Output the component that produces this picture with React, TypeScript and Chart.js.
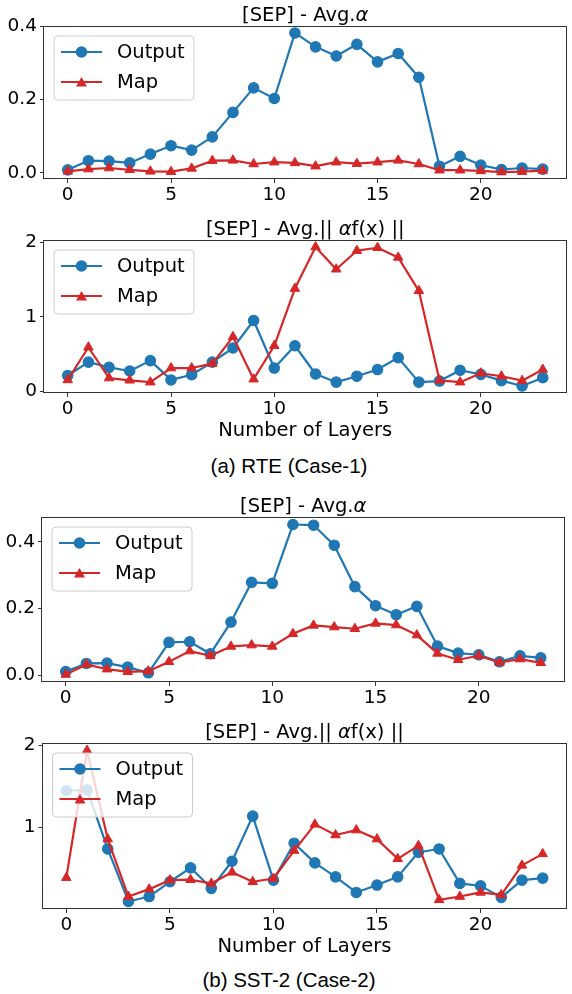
import React, { useEffect, useRef } from "react";
import { Chart, registerables } from "chart.js";

Chart.register(...registerables);

const LAYERS = [0, 1, 2, 3, 4, 5, 6, 7, 8, 9, 10, 11, 12, 13, 14, 15, 16, 17, 18, 19, 20, 21, 22, 23];
const X_TICKS = [0, 5, 10, 15, 20];
const SERIES_NAMES = ["Output", "Map"];
const X_LABEL = "Number of Layers";
const CAPTION_A = "(a) RTE (Case-1)";
const CAPTION_B = "(b) SST-2 (Case-2)";

const TITLE_ALPHA = [
  { text: "[SEP] - Avg.", italic: false },
  { text: "α", italic: true },
];
const TITLE_NORM = [
  { text: "[SEP] - Avg.|| ", italic: false },
  { text: "α", italic: true },
  { text: "f(x) ||", italic: false },
];

const RTE_ALPHA_OUTPUT = [0.008, 0.033, 0.032, 0.027, 0.051, 0.074, 0.062, 0.098, 0.165, 0.232, 0.203, 0.382, 0.344, 0.319, 0.351, 0.303, 0.326, 0.261, 0.018, 0.045, 0.021, 0.009, 0.013, 0.010];
const RTE_ALPHA_MAP = [0.004, 0.010, 0.013, 0.008, 0.004, 0.003, 0.012, 0.033, 0.034, 0.024, 0.029, 0.027, 0.018, 0.029, 0.025, 0.029, 0.034, 0.024, 0.007, 0.007, 0.005, 0.002, 0.003, 0.006];

const RTE_NORM_OUTPUT = [0.21, 0.39, 0.32, 0.27, 0.41, 0.15, 0.22, 0.39, 0.58, 0.95, 0.31, 0.61, 0.23, 0.12, 0.20, 0.29, 0.45, 0.12, 0.135, 0.28, 0.225, 0.14, 0.068, 0.18];
const RTE_NORM_MAP = [0.15, 0.59, 0.175, 0.145, 0.12, 0.31, 0.31, 0.37, 0.73, 0.16, 0.61, 1.38, 1.94, 1.64, 1.89, 1.93, 1.80, 1.35, 0.145, 0.12, 0.24, 0.20, 0.14, 0.29];

const SST_ALPHA_OUTPUT = [0.012, 0.036, 0.037, 0.025, 0.008, 0.099, 0.101, 0.065, 0.160, 0.279, 0.276, 0.452, 0.450, 0.390, 0.266, 0.209, 0.182, 0.207, 0.088, 0.067, 0.062, 0.041, 0.059, 0.053];
const SST_ALPHA_MAP = [0.003, 0.033, 0.019, 0.011, 0.013, 0.041, 0.073, 0.059, 0.087, 0.091, 0.087, 0.125, 0.150, 0.145, 0.140, 0.156, 0.151, 0.121, 0.066, 0.047, 0.059, 0.039, 0.049, 0.038];

const SST_NORM_OUTPUT = [1.45, 1.46, 0.74, 0.10, 0.16, 0.34, 0.51, 0.26, 0.59, 1.14, 0.36, 0.81, 0.57, 0.40, 0.21, 0.30, 0.40, 0.70, 0.74, 0.32, 0.29, 0.15, 0.36, 0.385];
const SST_NORM_MAP = [0.39, 1.94, 0.86, 0.16, 0.25, 0.36, 0.365, 0.32, 0.455, 0.34, 0.38, 0.72, 1.04, 0.91, 0.97, 0.86, 0.62, 0.78, 0.12, 0.16, 0.21, 0.18, 0.54, 0.68];

const Y_TICKS_ALPHA = [0, 0.2, 0.4];
const Y_TICKS_NORM_A = [0, 1, 2];
const Y_TICKS_NORM_B = [1, 2];

const FONT = '"DejaVu Sans", sans-serif';
const BLUE = "#1f77b4";
const RED = "#d62728";
const SPINE = "#333333";

type Seg = { text: string; italic: boolean };
type PanelProps = {
  top: number;
  width: number;
  height: number;
  chartTop: number;
  chartBottom: number;
  chartLeft: number;
  yMin: number;
  yMax: number;
  yTicks: number[];
  decimals: number;
  title: Seg[];
  xLabel?: string;
  output: number[];
  map: number[];
};

const framePlugin = {
  id: "frameLegendTitle",
  afterDatasetsDraw(chart: any) {
    const ctx = chart.ctx;
    const ca = chart.chartArea;
    const opts = chart.options.plugins.frameLegendTitle;
    ctx.save();
    // spines
    ctx.strokeStyle = SPINE;
    ctx.lineWidth = 1;
    ctx.strokeRect(Math.round(ca.left) - 0.5, Math.round(ca.top) + 0.5, Math.round(ca.right) - Math.round(ca.left), Math.round(ca.bottom) - Math.round(ca.top) - 1);

    // legend
    const bx = ca.left + 10;
    const by = ca.top + 10;
    const bw = 140;
    const bh = 64;
    const r = 4;
    ctx.beginPath();
    ctx.moveTo(bx + r, by);
    ctx.lineTo(bx + bw - r, by);
    ctx.arcTo(bx + bw, by, bx + bw, by + r, r);
    ctx.lineTo(bx + bw, by + bh - r);
    ctx.arcTo(bx + bw, by + bh, bx + bw - r, by + bh, r);
    ctx.lineTo(bx + r, by + bh);
    ctx.arcTo(bx, by + bh, bx, by + bh - r, r);
    ctx.lineTo(bx, by + r);
    ctx.arcTo(bx, by, bx + r, by, r);
    ctx.closePath();
    ctx.fillStyle = "rgba(255,255,255,0.8)";
    ctx.fill();
    ctx.strokeStyle = "#cccccc";
    ctx.lineWidth = 1;
    ctx.stroke();

    chart.data.datasets.forEach((ds: any, i: number) => {
      const cy = by + 16 + i * 30;
      ctx.strokeStyle = ds.borderColor;
      ctx.lineWidth = 2.2;
      ctx.beginPath();
      ctx.moveTo(bx + 7, cy);
      ctx.lineTo(bx + 48, cy);
      ctx.stroke();
      const cx = bx + 27.5;
      ctx.fillStyle = ds.borderColor;
      ctx.beginPath();
      if (ds.pointStyle === "triangle") {
        ctx.moveTo(cx, cy - 5);
        ctx.lineTo(cx - 5.5, cy + 4.5);
        ctx.lineTo(cx + 5.5, cy + 4.5);
        ctx.closePath();
      } else {
        ctx.arc(cx, cy, 5.8, 0, Math.PI * 2);
      }
      ctx.fill();
      ctx.fillStyle = "#000";
      ctx.font = `19.5px ${FONT}`;
      ctx.textBaseline = "middle";
      ctx.textAlign = "left";
      ctx.fillText(ds.label, bx + 63, cy + 1);
    });

    // title
    const segs: Seg[] = opts.title;
    const fontOf = (s: Seg) => `${s.italic ? "italic " : ""}19.5px ${FONT}`;
    let total = 0;
    const widths = segs.map((s) => {
      ctx.font = fontOf(s);
      const w = ctx.measureText(s.text).width;
      total += w;
      return w;
    });
    let x = (ca.left + ca.right) / 2 - total / 2;
    ctx.fillStyle = "#000";
    ctx.textBaseline = "alphabetic";
    ctx.textAlign = "left";
    segs.forEach((s, i) => {
      ctx.font = fontOf(s);
      ctx.fillText(s.text, x, ca.top - 5.5);
      x += widths[i];
    });
    ctx.restore();
  },
};

function Panel(p: PanelProps) {
  const ref = useRef<HTMLCanvasElement | null>(null);
  useEffect(() => {
    if (!ref.current) return;
    const xAxisHeight = p.height - (p.chartBottom - p.top);
    const chart = new Chart(ref.current, {
      type: "line",
      data: {
        datasets: [
          {
            label: SERIES_NAMES[0],
            data: LAYERS.map((l, i) => ({ x: l, y: p.output[i] })),
            borderColor: BLUE,
            backgroundColor: BLUE,
            borderWidth: 2.2,
            pointStyle: "circle",
            pointRadius: 5.2,
            pointBorderWidth: 1.2,
            pointBackgroundColor: BLUE,
            pointBorderColor: BLUE,
            tension: 0,
            borderJoinStyle: "round",
            order: 2,
          },
          {
            label: SERIES_NAMES[1],
            data: LAYERS.map((l, i) => ({ x: l, y: p.map[i] })),
            borderColor: RED,
            backgroundColor: RED,
            borderWidth: 2.2,
            pointStyle: "triangle",
            pointRadius: 5.5,
            pointBorderWidth: 1,
            pointBackgroundColor: RED,
            pointBorderColor: RED,
            tension: 0,
            borderJoinStyle: "round",
            order: 1,
          },
        ],
      },
      options: {
        responsive: false,
        animation: false,
        devicePixelRatio: 1,
        layout: { padding: { top: p.chartTop - p.top, left: 0, right: 0, bottom: 0 } },
        plugins: {
          legend: { display: false },
          title: { display: false },
          tooltip: { enabled: false },
          frameLegendTitle: { title: p.title },
        } as any,
        scales: {
          x: {
            type: "linear",
            min: -1.15,
            max: 24.15,
            afterBuildTicks: (s: any) => {
              s.ticks = X_TICKS.map((v) => ({ value: v }));
            },
            afterFit: (s: any) => {
              s.height = xAxisHeight;
            },
            ticks: {
              color: "#000",
              font: { family: FONT, size: 18.5 },
              padding: 1,
              maxRotation: 0,
              autoSkip: false,
              callback: (v: any) => String(v),
            },
            grid: { display: true, drawOnChartArea: false, drawTicks: true, tickLength: 4, color: SPINE, lineWidth: 1 },
            border: { display: false },
            title: {
              display: !!p.xLabel,
              text: p.xLabel || "",
              color: "#000",
              font: { family: FONT, size: 19.5 },
              padding: { top: 0, bottom: 0 },
            },
          },
          y: {
            type: "linear",
            min: p.yMin,
            max: p.yMax,
            afterBuildTicks: (s: any) => {
              s.ticks = p.yTicks.map((v) => ({ value: v }));
            },
            afterFit: (s: any) => {
              s.width = p.chartLeft;
            },
            ticks: {
              color: "#000",
              font: { family: FONT, size: 18.5 },
              padding: 3,
              autoSkip: false,
              callback: (v: any) => Number(v).toFixed(p.decimals),
            },
            grid: { display: true, drawOnChartArea: false, drawTicks: true, tickLength: 4, color: SPINE, lineWidth: 1 },
            border: { display: false },
          },
        },
      } as any,
      plugins: [framePlugin],
    });
    return () => chart.destroy();
  }, []);
  return (
    <canvas
      ref={ref}
      width={p.width}
      height={p.height}
      style={{ position: "absolute", left: 0, top: p.top, width: p.width, height: p.height, display: "block" }}
    />
  );
}

const captionStyle = (centerY: number): React.CSSProperties => ({
  position: "absolute",
  left: 89,
  width: 400,
  top: centerY - 11,
  height: 22,
  lineHeight: "22px",
  textAlign: "center",
  fontFamily: '"Liberation Sans", Arial, sans-serif',
  fontSize: 20.5,
  color: "#000",
  whiteSpace: "nowrap",
});

export default function App() {
  return (
    <div style={{ position: "absolute", left: 0, top: 0, width: 572, height: 994, overflow: "hidden", background: "#fff" }}>
      <Panel top={0} width={573} height={212} chartTop={26} chartBottom={179} chartLeft={44}
        yMin={-0.017} yMax={0.401} yTicks={Y_TICKS_ALPHA} decimals={1} title={TITLE_ALPHA}
        output={RTE_ALPHA_OUTPUT} map={RTE_ALPHA_MAP} />
      <Panel top={205} width={573} height={238} chartTop={240} chartBottom={393} chartLeft={44}
        yMin={-0.026} yMax={2.034} yTicks={Y_TICKS_NORM_A} decimals={0} title={TITLE_NORM} xLabel={X_LABEL}
        output={RTE_NORM_OUTPUT} map={RTE_NORM_MAP} />
      <div style={captionStyle(466)}>{CAPTION_A}</div>
      <Panel top={495} width={571} height={217} chartTop={517} chartBottom={682} chartLeft={42}
        yMin={-0.0195} yMax={0.4745} yTicks={Y_TICKS_ALPHA} decimals={1} title={TITLE_ALPHA}
        output={SST_ALPHA_OUTPUT} map={SST_ALPHA_MAP} />
      <Panel top={715} width={573} height={244} chartTop={743} chartBottom={909} chartLeft={42.5}
        yMin={0.008} yMax={2.032} yTicks={Y_TICKS_NORM_B} decimals={0} title={TITLE_NORM} xLabel={X_LABEL}
        output={SST_NORM_OUTPUT} map={SST_NORM_MAP} />
      <div style={captionStyle(980)}>{CAPTION_B}</div>
    </div>
  );
}
